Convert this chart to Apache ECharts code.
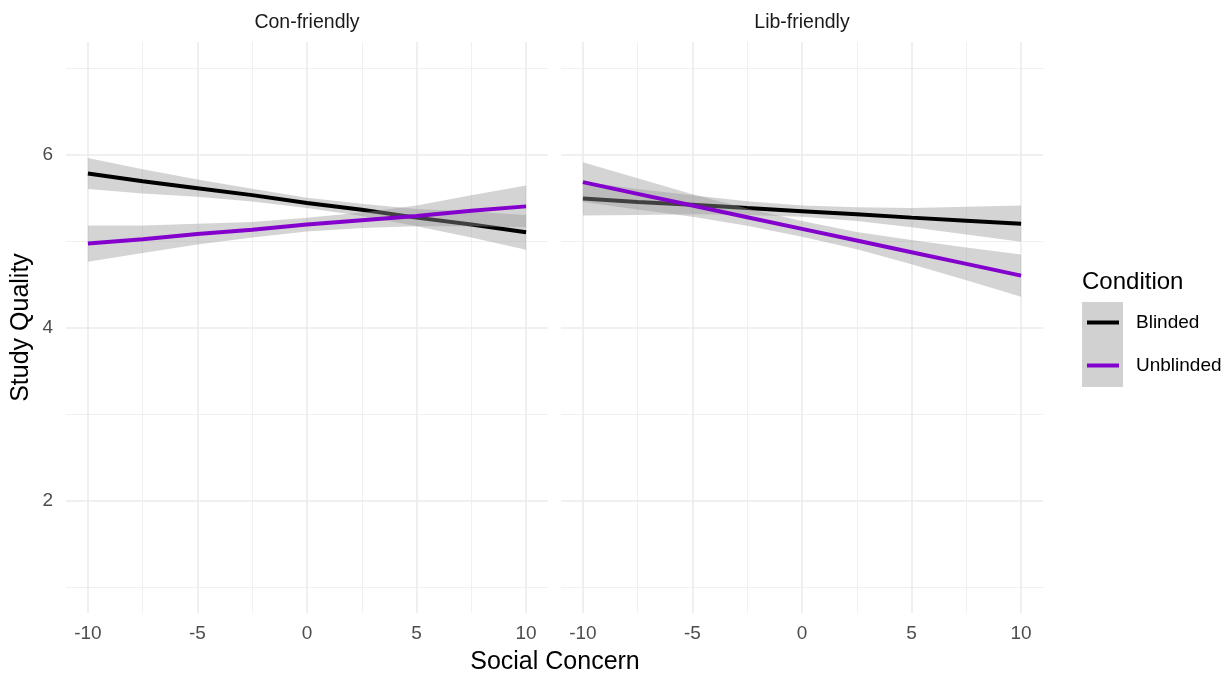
<!DOCTYPE html>
<html>
<head>
<meta charset="utf-8">
<script src="https://cdn.jsdelivr.net/npm/echarts@6/dist/echarts.min.js"></script>
<style>
html,body{margin:0;padding:0;background:#fff;}
#chart{width:1226px;height:675px;}
</style>
</head>
<body>
<div id="chart"></div>
<script>
// ---- data ----
const panels = ['Con-friendly', 'Lib-friendly'];
const conditions = ['Blinded', 'Unblinded'];
const xs = [-10, -7.5, -5, -2.5, 0, 2.5, 5, 7.5, 10];

const conBlindedFit = [5.78, 5.69, 5.61, 5.53, 5.44, 5.36, 5.27, 5.19, 5.10];
const conBlindedLo  = [5.60, 5.55, 5.51, 5.455, 5.38, 5.29, 5.17, 5.04, 4.90];
const conBlindedHi  = [5.96, 5.83, 5.71, 5.605, 5.50, 5.43, 5.37, 5.34, 5.30];

const conUnblindedFit = [4.97, 5.02, 5.08, 5.13, 5.19, 5.24, 5.29, 5.35, 5.40];
const conUnblindedLo  = [4.76, 4.86, 4.96, 5.04, 5.11, 5.15, 5.17, 5.17, 5.16];
const conUnblindedHi  = [5.18, 5.18, 5.20, 5.22, 5.27, 5.33, 5.41, 5.53, 5.64];

const libBlindedFit = [5.49, 5.45, 5.42, 5.38, 5.345, 5.31, 5.27, 5.235, 5.20];
const libBlindedLo  = [5.295, 5.30, 5.31, 5.30, 5.28, 5.23, 5.16, 5.075, 4.99];
const libBlindedHi  = [5.685, 5.60, 5.53, 5.46, 5.41, 5.39, 5.38, 5.395, 5.41];

const libUnblindedFit = [5.68, 5.545, 5.41, 5.275, 5.14, 5.005, 4.87, 4.735, 4.60];
const libUnblindedLo  = [5.45, 5.365, 5.28, 5.175, 5.05, 4.905, 4.73, 4.545, 4.355];
const libUnblindedHi  = [5.91, 5.725, 5.54, 5.375, 5.23, 5.105, 5.01, 4.925, 4.845];

const xMajorTicks = [-10, -5, 0, 5, 10];
const xMinorTicks = [-7.5, -2.5, 2.5, 7.5];
const yMajorTicks = [2, 4, 6];
const yMinorTicks = [1, 3, 5, 7];

// ---- styling ----
const FONT = "'Liberation Sans', Arial, sans-serif";
const colors = {Blinded: '#000000', Unblinded: '#8400CC'};
const ribbonFill = 'rgba(153,153,153,0.42)';
const majorGrid = {show: true, lineStyle: {color: '#EBEBEB', width: 1.6}};
const minorGrid = {show: true, lineStyle: {color: '#EEEEEE', width: 0.9}};

const chart = echarts.init(document.getElementById('chart'), null, {renderer: 'canvas'});

const grids = [
  {left: 66, top: 42, width: 482, height: 571},
  {left: 561, top: 42, width: 482, height: 571}
];

const xAxes = [], yAxes = [];
grids.forEach((g, gi) => {
  xAxes.push({
    type: 'value', gridIndex: gi, min: -11, max: 11,
    axisLine: {show: false}, axisTick: {show: false, customValues: xMajorTicks},
    axisLabel: {customValues: xMajorTicks, color: '#4D4D4D', fontSize: 19, fontFamily: FONT, margin: 11},
    splitLine: majorGrid
  });
  xAxes.push({
    type: 'value', gridIndex: gi, min: -11, max: 11, position: 'bottom',
    axisLine: {show: false}, axisTick: {show: false, customValues: xMinorTicks},
    axisLabel: {show: false, customValues: xMinorTicks},
    splitLine: minorGrid
  });
  yAxes.push({
    type: 'value', gridIndex: gi, min: 0.7, max: 7.3,
    axisLine: {show: false}, axisTick: {show: false, customValues: yMajorTicks},
    axisLabel: {show: gi === 0, customValues: yMajorTicks, color: '#4D4D4D', fontSize: 19, fontFamily: FONT, margin: 13},
    splitLine: majorGrid,
    name: gi === 0 ? 'Study Quality' : '',
    nameLocation: 'middle', nameRotate: 90, nameGap: 32,
    nameTextStyle: {color: '#000', fontSize: 25, fontFamily: FONT}
  });
  yAxes.push({
    type: 'value', gridIndex: gi, min: 0.7, max: 7.3, position: 'left',
    axisLine: {show: false}, axisTick: {show: false, customValues: yMinorTicks},
    axisLabel: {show: false, customValues: yMinorTicks},
    splitLine: minorGrid
  });
});

function rows(lo, hi) { return xs.map((x, i) => [x, lo[i], hi[i]]); }
function line(fit) { return xs.map((x, i) => [x, fit[i]]); }

function ribbonSeries(gi, lo, hi, z) {
  const data = rows(lo, hi);
  return {
    type: 'custom', xAxisIndex: gi * 2, yAxisIndex: gi * 2, z: z, silent: true,
    data: data,
    encode: {x: 0, y: [1, 2]},
    renderItem: function (params, api) {
      if (params.dataIndex !== 0) return null;
      const pts = [];
      data.forEach(r => pts.push(api.coord([r[0], r[2]])));
      for (let i = data.length - 1; i >= 0; i--) pts.push(api.coord([data[i][0], data[i][1]]));
      return {type: 'polygon', shape: {points: pts}, style: {fill: ribbonFill}};
    }
  };
}
function lineSeries(gi, name, fit, z) {
  return {
    type: 'line', name: name, xAxisIndex: gi * 2, yAxisIndex: gi * 2, z: z,
    data: line(fit), showSymbol: false, symbol: 'none', silent: true,
    color: colors[name],
    itemStyle: {color: colors[name]},
    lineStyle: {color: colors[name], width: 4}
  };
}

const series = [
  ribbonSeries(0, conBlindedLo, conBlindedHi, 2),
  lineSeries(0, 'Blinded', conBlindedFit, 3),
  ribbonSeries(0, conUnblindedLo, conUnblindedHi, 4),
  lineSeries(0, 'Unblinded', conUnblindedFit, 5),
  ribbonSeries(1, libBlindedLo, libBlindedHi, 2),
  lineSeries(1, 'Blinded', libBlindedFit, 3),
  ribbonSeries(1, libUnblindedLo, libUnblindedHi, 4),
  lineSeries(1, 'Unblinded', libUnblindedFit, 5)
];

chart.setOption({
  backgroundColor: '#ffffff',
  animation: false,
  grid: grids,
  xAxis: xAxes,
  yAxis: yAxes,
  series: series,
  legend: {
    data: conditions,
    orient: 'vertical',
    left: 1082, top: 308,
    icon: 'rect', itemWidth: 32, itemHeight: 4, itemGap: 24,
    textStyle: {color: '#000', fontSize: 19, fontFamily: FONT, padding: [0, 0, 0, 12]},
    selectedMode: false
  },
  graphic: [
    {type: 'rect', left: 1082, top: 302, z: 0, shape: {width: 41, height: 85}, style: {fill: 'rgba(153,153,153,0.45)'}},
    {type: 'text', x: 1082, y: 282, style: {text: 'Condition', fill: '#000', font: '24px ' + FONT, textVerticalAlign: 'middle'}},
    {type: 'text', x: 307, y: 23, style: {text: panels[0], fill: '#1A1A1A', font: '19.5px ' + FONT, textAlign: 'center', textVerticalAlign: 'middle'}},
    {type: 'text', x: 802, y: 23, style: {text: panels[1], fill: '#1A1A1A', font: '19.5px ' + FONT, textAlign: 'center', textVerticalAlign: 'middle'}},
    {type: 'text', x: 555, y: 662, style: {text: 'Social Concern', fill: '#000', font: '25px ' + FONT, textAlign: 'center', textVerticalAlign: 'middle'}}
  ]
});
</script>
</body>
</html>
